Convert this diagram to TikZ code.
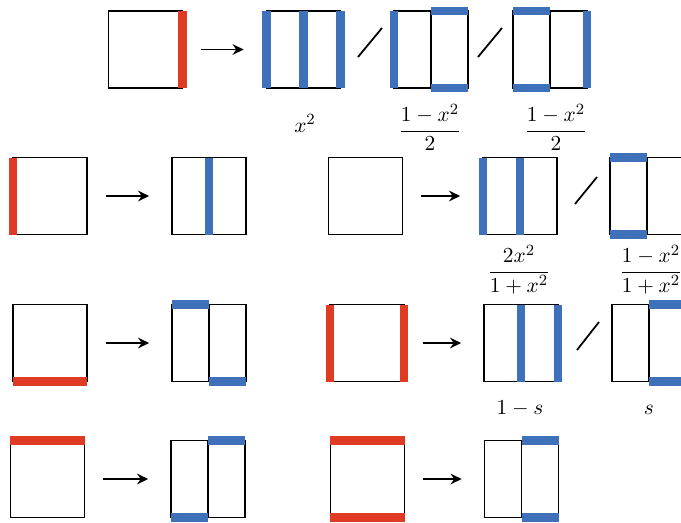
\documentclass[tikz,border=0pt]{standalone}
\usepackage{amsmath,amssymb}
\usepackage{tikz}
\usetikzlibrary{arrows.meta}
\definecolor{barred}{RGB}{223,59,36}
\definecolor{barblue}{RGB}{62,113,185}

\begin{document}
\begin{tikzpicture}[x=0.18mm, y=-0.18mm, every node/.style={font=\fontsize{11}{13}\selectfont}, >={Stealth[length=2mm, width=1.9mm]}, sq/.style={draw, line width=0.9pt, minimum width=13.32mm, minimum height=13.86mm, inner sep=0pt, outer sep=0pt}, rb/.style={barred, line width=1.6mm}, bb/.style={barblue, line width=1.6mm}, mid/.style={line width=0.9pt}, flow/.style={->, line width=0.9pt, shorten <=3.4mm, shorten >=4.1mm}, slash/.style={line width=0.9pt}]
	\useasboundingbox (0,0) rectangle (681,522);
	% row 1
	\node[sq] (A) at (145.5,49.5) {};
	\node[sq] (B) at (303.5,49.5) {};
	\node[sq] (C) at (431,49.5) {};
	\node[sq] (D) at (550,49.5) {};
	\foreach \b in {C, D} {\draw[mid] (\b.north) -- (\b.south);}
	\draw[rb] (A.north east) -- (A.south east);
	\foreach \s/\e in {north west/south west, north/south, north east/south east} {\draw[bb] (B.\s) -- (B.\e);}
	\draw[bb] (C.north west) -- (C.south west);
	\draw[bb] (C.north) -- (C.north east);
	\draw[bb] (C.south) -- (C.south east);
	\draw[bb] (D.north west) -- (D.north);
	\draw[bb] (D.south west) -- (D.south);
	\draw[bb] (D.north east) -- (D.south east);
	\draw[flow] (A.east) -- (B.west);
	\draw[slash] (358,57) -- (382,28);
	\draw[slash] (478,57) -- (502,28);
	\node[anchor=base] (lB) at (305,132) {$x^2$};
	\node (lC) at (430,127.5) {$\dfrac{1-x^2}{2}$};
	\node (lD) at (556,127.5) {$\dfrac{1-x^2}{2}$};
	% row 2
	\node[sq] (E) at (50,196) {};
	\node[sq] (F) at (209,196) {};
	\node[sq] (G) at (365.5,196) {};
	\node[sq] (H) at (520,196) {};
	\node[sq] (I) at (647,196) {};
	\draw[mid] (I.north) -- (I.south);
	\draw[rb] (E.north west) -- (E.south west);
	\draw[bb] (F.north) -- (F.south);
	\draw[bb] (H.north west) -- (H.south west);
	\draw[bb] (H.north) -- (H.south);
	\draw[bb] (I.north west) -- (I.north);
	\draw[bb] (I.south west) -- (I.south);
	\draw[flow] (E.east) -- (F.west);
	\draw[flow] (G.east) -- (H.west);
	\draw[slash] (575,204) -- (597,177);
	\node (lH) at (519,269.5) {$\dfrac{2x^2}{1+x^2}$};
	\node (lI) at (651,269.5) {$\dfrac{1-x^2}{1+x^2}$};
	% row 3
	\node[sq] (J) at (50,343) {};
	\node[sq] (K) at (209,343) {};
	\node[sq] (L) at (367,343) {};
	\node[sq] (M) at (521,343) {};
	\node[sq] (N) at (649,343) {};
	\foreach \b in {K, N} {\draw[mid] (\b.north) -- (\b.south);}
	\draw[rb] (J.south west) -- (J.south east);
	\draw[bb] (K.north west) -- (K.north);
	\draw[bb] (K.south) -- (K.south east);
	\draw[rb] (L.north west) -- (L.south west);
	\draw[rb] (L.north east) -- (L.south east);
	\draw[bb] (M.north) -- (M.south);
	\draw[bb] (M.north east) -- (M.south east);
	\draw[bb] (N.north) -- (N.north east);
	\draw[bb] (N.south) -- (N.south east);
	\draw[flow] (J.east) -- (K.west);
	\draw[flow] (L.east) -- (M.west);
	\draw[slash] (577,350) -- (599,322);
	\node[anchor=base] (lM) at (520,414) {$1-s$};
	\node[anchor=base] (lN) at (649,414) {$s$};
	% row 4
	\node[sq] (O) at (47.5,479) {};
	\node[sq] (P) at (208,479) {};
	\node[sq] (Q) at (367.5,479) {};
	\node[sq] (R) at (521.5,479) {};
	\foreach \b in {P, R} {\draw[mid] (\b.north) -- (\b.south);}
	\draw[rb] (O.north west) -- (O.north east);
	\draw[bb] (P.south west) -- (P.south);
	\draw[bb] (P.north) -- (P.north east);
	\draw[rb] (Q.north west) -- (Q.north east);
	\draw[rb] (Q.south west) -- (Q.south east);
	\draw[bb] (R.north) -- (R.north east);
	\draw[bb] (R.south) -- (R.south east);
	\draw[flow] (O.east) -- (P.west);
	\draw[flow] (Q.east) -- (R.west);
\end{tikzpicture}
\end{document}
